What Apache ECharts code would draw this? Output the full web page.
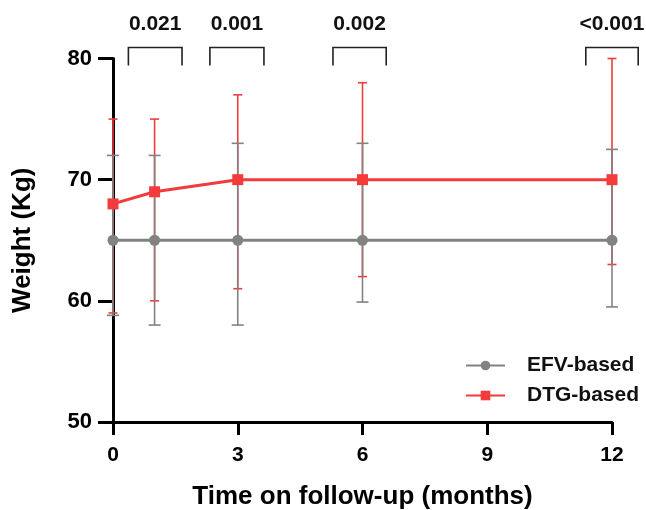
<!DOCTYPE html>
<html>
<head>
<meta charset="utf-8">
<script src="https://cdn.jsdelivr.net/npm/echarts@6/dist/echarts.min.js"></script>
<style>
  html, body { margin: 0; padding: 0; background: #fff; }
  #chart { width: 646px; height: 510px; }
</style>
</head>
<body>
<div id="chart"></div>
<script>
// follow-up months
const months = [0, 1, 3, 6, 12]

// EFV-based: mean, lower, upper
const efvMean = [65, 65, 65, 65, 65]
const efvLow = [58.8, 58, 58, 59.9, 59.5]
const efvHigh = [72, 72, 73, 73, 72.5]

// DTG-based: mean, lower, upper
const dtgMean = [68, 69, 70, 70, 70]
const dtgLow = [59, 60, 61, 62, 63]
const dtgHigh = [75, 75, 77, 78, 80]

// p-value brackets: [from, to, label]
const brackets = [
  [0.37, 1.66, '0.021'],
  [2.33, 3.63, '0.001'],
  [5.29, 6.57, '0.002'],
  [11.37, 12.63, '<0.001']
]

const font = 'Liberation Sans, Arial, sans-serif'
const gray = '#828282'
const red = '#f43b3b'

function zip(a, b) {
  return a.map((v, i) => [v, b[i]])
}
function errData(lo, hi) {
  return months.map((m, i) => [m, lo[i], hi[i]])
}

function errorBar(color, cap) {
  return function (params, api) {
    const x = api.value(0)
    const lo = api.coord([x, api.value(1)])
    const hi = api.coord([x, api.value(2)])
    const style = { stroke: color, lineWidth: 1.6 }
    return {
      type: 'group',
      children: [
        { type: 'line', shape: { x1: lo[0], y1: lo[1], x2: hi[0], y2: hi[1] }, style },
        { type: 'line', shape: { x1: lo[0] - cap, y1: lo[1], x2: lo[0] + cap, y2: lo[1] }, style },
        { type: 'line', shape: { x1: hi[0] - cap, y1: hi[1], x2: hi[0] + cap, y2: hi[1] }, style }
      ]
    }
  }
}

const chart = echarts.init(document.getElementById('chart'))

chart.setOption({
  animation: false,
  grid: { left: 113, right: 34, top: 58.5, bottom: 88, outerBoundsMode: 'none' },
  legend: {
    orient: 'vertical',
    left: 460,
    top: 350,
    itemWidth: 39,
    itemHeight: 12,
    itemGap: 9,
    textStyle: { fontFamily: font, fontWeight: 'bold', fontSize: 21, color: '#111', padding: [0, 0, 0, 17] },
    data: ['EFV-based', 'DTG-based']
  },
  xAxis: {
    type: 'value',
    min: 0,
    max: 12,
    interval: 3,
    name: 'Time on follow-up (months)',
    nameLocation: 'middle',
    nameGap: 62,
    nameTextStyle: { fontFamily: font, fontWeight: 'bold', fontSize: 26, color: '#000' },
    axisLine: { lineStyle: { color: '#000', width: 3 } },
    axisTick: { length: 13, lineStyle: { color: '#000', width: 3 } },
    axisLabel: { margin: 23, fontFamily: font, fontWeight: 'bold', fontSize: 21, color: '#000' },
    splitLine: { show: false }
  },
  yAxis: {
    type: 'value',
    min: 50,
    max: 80,
    interval: 10,
    name: 'Weight (Kg)',
    nameLocation: 'middle',
    nameGap: 77,
    nameTextStyle: { fontFamily: font, fontWeight: 'bold', fontSize: 26, color: '#000' },
    axisLine: { show: true, lineStyle: { color: '#000', width: 3 } },
    axisTick: { show: true, length: 15, lineStyle: { color: '#000', width: 3 } },
    axisLabel: { margin: 21, fontFamily: font, fontWeight: 'bold', fontSize: 22, color: '#000' },
    splitLine: { show: false }
  },
  series: [
    {
      name: 'DTG err',
      type: 'custom',
      clip: false,
      z: 2,
      renderItem: errorBar(red, 4.5),
      data: errData(dtgLow, dtgHigh)
    },
    {
      name: 'EFV err',
      type: 'custom',
      clip: false,
      z: 3,
      renderItem: errorBar(gray, 6),
      data: errData(efvLow, efvHigh)
    },
    {
      name: 'EFV-based',
      type: 'line',
      z: 4,
      data: zip(months, efvMean),
      symbol: 'circle',
      symbolSize: 11,
      lineStyle: { color: gray, width: 3 },
      itemStyle: { color: gray }
    },
    {
      name: 'DTG-based',
      type: 'line',
      z: 5,
      data: zip(months, dtgMean),
      symbol: 'rect',
      symbolSize: 11,
      lineStyle: { color: red, width: 3 },
      itemStyle: { color: red }
    },
    {
      name: 'brackets',
      type: 'custom',
      clip: false,
      silent: true,
      renderItem: function (params, api) {
        const a = api.coord([api.value(0), 80])
        const b = api.coord([api.value(1), 80])
        const top = a[1] - 11
        const bot = a[1] + 7
        return {
          type: 'group',
          children: [
            {
              type: 'polyline',
              shape: { points: [[a[0], bot], [a[0], top], [b[0], top], [b[0], bot]] },
              style: { stroke: '#222', lineWidth: 1.6, fill: null }
            },
            {
              type: 'text',
              style: {
                x: (a[0] + b[0]) / 2,
                y: top - 23,
                text: brackets[params.dataIndex][2],
                align: 'center',
                verticalAlign: 'middle',
                font: 'bold 21px ' + font,
                fill: '#111'
              }
            }
          ]
        }
      },
      data: brackets.map(d => [d[0], d[1]])
    }
  ]
})
</script>
</body>
</html>
